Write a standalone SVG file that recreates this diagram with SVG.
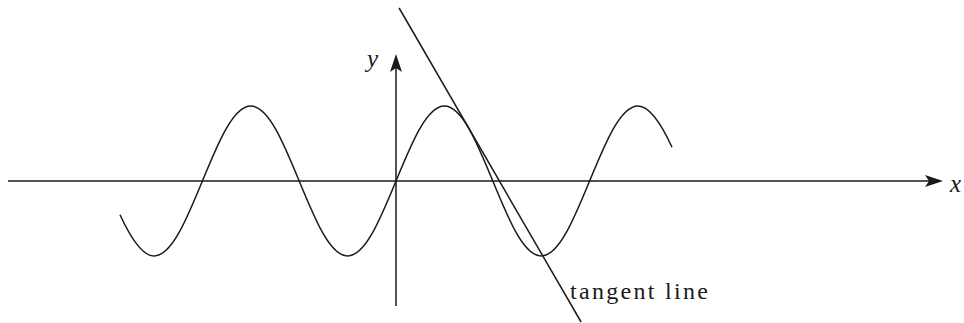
<svg xmlns="http://www.w3.org/2000/svg" width="964" height="323" viewBox="0 0 964 323">
<style>
.ln{fill:none;stroke:#1a1a1a;stroke-width:1.5}
.lbl{font-family:"Liberation Serif","DejaVu Serif",serif;fill:#1a1a1a}
.it{font-style:italic}
</style>
<defs>
<marker id="arr" markerUnits="userSpaceOnUse" markerWidth="24" markerHeight="16" viewBox="-10 -8 24 16" refX="0" refY="0" orient="auto">
<path d="M-4,0 L-8,-6 L10,0 L-8,6 Z" fill="#1a1a1a"/>
</marker>
</defs>
<rect width="964" height="323" fill="#fff"/>
<g id="connectors">
<path id="x-axis" class="ln" d="M8,181 H933" marker-end="url(#arr)"/>
<path id="y-axis" class="ln" d="M396,306 V64" marker-end="url(#arr)"/>
</g>
<g id="sine-curve">
<path class="ln" d="M120,214.77 C131.34,239.41 142.66,256 154,256 C171.52,256 186.62,219.42 202.4,181 C218.18,142.58 233.28,106 250.8,106 C268.32,106 283.42,142.58 299.2,181 C314.98,219.42 330.08,256 347.6,256 C365.12,256 380.22,219.42 396,181 C411.78,142.58 426.88,106 444.4,106 C461.92,106 477.02,142.58 492.8,181 C508.58,219.42 523.68,256 541.2,256 C558.72,256 573.82,219.42 589.6,181 C605.38,142.58 620.48,106 638,106 C649.34,106 660.66,122.59 672,147.23"/>
</g>
<g id="tangent-line">
<path class="ln" d="M399.1,8 L581.1,322"/>
<text class="lbl" x="570" y="299" font-size="24" textLength="138" lengthAdjust="spacing">tangent line</text>
</g>
<g id="labels">
<text class="lbl it" x="367" y="67" font-size="25">y</text>
<text class="lbl it" x="950" y="192" font-size="25">x</text>
</g>
</svg>
